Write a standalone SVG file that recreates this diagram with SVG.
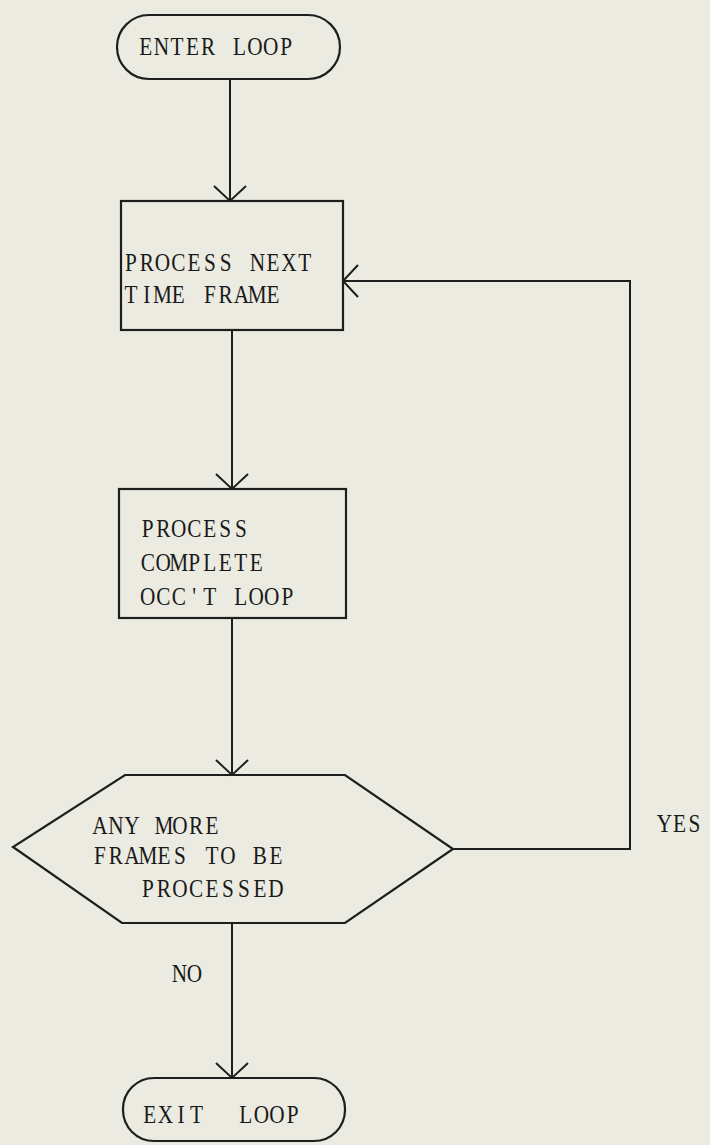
<svg xmlns="http://www.w3.org/2000/svg" width="710" height="1145" viewBox="0 0 710 1145">
<style>
.shape{fill:none;stroke:#1e1e1e;stroke-width:2.2}
.line{fill:none;stroke:#1e1e1e;stroke-width:2}
.t{font-family:"Liberation Serif","Times New Roman",serif;font-size:25px;fill:#1a1a1a;text-anchor:middle}
</style>
<defs>
<marker id="arr" markerWidth="20" markerHeight="34" refX="17" refY="17" orient="auto" markerUnits="userSpaceOnUse">
<path d="M2,1 L17,17 L2,33" fill="none" stroke="#1e1e1e" stroke-width="2"/>
</marker>
</defs>
<rect width="710" height="1145" fill="#ecebe1"/>
<g id="connectors">
<line class="line" x1="230" y1="79" x2="230" y2="201" marker-end="url(#arr)"/>
<line class="line" x1="232" y1="330" x2="232" y2="489" marker-end="url(#arr)"/>
<line class="line" x1="232" y1="618" x2="232" y2="775" marker-end="url(#arr)"/>
<polyline class="line" points="453,849 630,849 630,281 343,281" marker-end="url(#arr)"/>
<line class="line" x1="232" y1="923" x2="232" y2="1078" marker-end="url(#arr)"/>
<g transform="translate(657,832) scale(0.85,1)"><text class="t" x="8.8 26.5 44.1" y="0">YES</text></g>
<g transform="translate(172,982) scale(0.85,1)"><text class="t" x="8.8 26.5" y="0">NO</text></g>
</g>
<g id="enter">
<rect class="shape" x="117" y="15" width="223" height="64" rx="32"/>
<g transform="translate(138,55) scale(0.85,1)"><text class="t" x="9.2 27.5 45.9 64.2 82.6 100.9 119.3 137.6 156 174.4" y="0">ENTER LOOP</text></g>
</g>
<g id="process-next">
<rect class="shape" x="121" y="201" width="222" height="129"/>
<g transform="translate(123,271) scale(0.85,1)"><text class="t" x="9.3 27.9 46.5 65.1 83.6 102.2 120.8 139.4 158 176.6 195.2 213.8" y="0">PROCESS NEXT</text></g>
<g transform="translate(123,303) scale(0.85,1)"><text class="t" x="9.3 27.9 46.5 65.1 83.6 102.2 120.8 139.4 158 176.6" y="0">TIME FRAME</text></g>
</g>
<g id="process-complete">
<rect class="shape" x="119" y="489" width="227" height="129"/>
<g transform="translate(140,537) scale(0.85,1)"><text class="t" x="9.1 27.4 45.6 63.8 82.1 100.3 118.6" y="0">PROCESS</text></g>
<g transform="translate(140,571) scale(0.85,1)"><text class="t" x="9.1 27.4 45.6 63.8 82.1 100.3 118.6 136.8" y="0">COMPLETE</text></g>
<g transform="translate(140,605) scale(0.85,1)"><text class="t" x="9.1 27.4 45.6 63.8 82.1 100.3 118.6 136.8 155 173.3" y="0">OCC'T LOOP</text></g>
</g>
<g id="decision">
<polygon class="shape" points="125,775 345,775 453,849 345,923 122,923 13,847"/>
<g transform="translate(92,834) scale(0.85,1)"><text class="t" x="9.4 28.2 47.1 65.9 84.7 103.5 122.4 141.2" y="0">ANY MORE</text></g>
<g transform="translate(92,864) scale(0.85,1)"><text class="t" x="9.4 28.2 47.1 65.9 84.7 103.5 122.4 141.2 160 178.8 197.6 216.5" y="0">FRAMES TO BE</text></g>
<g transform="translate(140,897) scale(0.85,1)"><text class="t" x="9.4 28.2 47.1 65.9 84.7 103.5 122.4 141.2 160" y="0">PROCESSED</text></g>
</g>
<g id="exit">
<rect class="shape" x="123" y="1078" width="222" height="63" rx="31"/>
<g transform="translate(142,1123) scale(0.85,1)"><text class="t" x="9.2 27.5 45.9 64.2" y="0">EXIT</text></g>
<g transform="translate(238,1123) scale(0.85,1)"><text class="t" x="9.2 27.5 45.9 64.2" y="0">LOOP</text></g>
</g>
</svg>
